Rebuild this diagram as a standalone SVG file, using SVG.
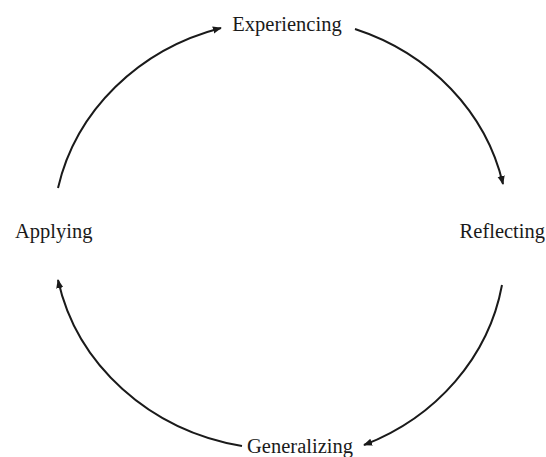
<svg xmlns="http://www.w3.org/2000/svg" width="546" height="457" viewBox="0 0 546 457">
<defs>
<marker id="ah" viewBox="0 0 10 10" refX="9" refY="5" markerWidth="9" markerHeight="9" markerUnits="userSpaceOnUse" orient="auto">
<path d="M0,1 L10,5 L0,9 z" fill="#1a1a1a"/>
</marker>
<style>
.lbl{font-family:"Liberation Serif","Times New Roman",serif;font-size:20.5px;fill:#1a1a1a}
.arc{fill:none;stroke:#1a1a1a;stroke-width:2;marker-end:url(#ah)}
</style>
</defs>
<rect width="546" height="457" fill="#ffffff"/>
<g id="connectors">
<path class="arc" d="M58,188 A230,212 0 0 1 221,28"/>
<path class="arc" d="M355,29 A230,212 0 0 1 503,184"/>
<path class="arc" d="M502,285 A230,212 0 0 1 364,445"/>
<path class="arc" d="M242,446 A230,212 0 0 1 58,280"/>
</g>
<g id="experiencing"><text class="lbl" x="287" y="31" text-anchor="middle">Experiencing</text></g>
<g id="reflecting"><text class="lbl" x="545" y="238" text-anchor="end">Reflecting</text></g>
<g id="generalizing"><text class="lbl" x="300" y="453" text-anchor="middle">Generalizing</text></g>
<g id="applying"><text class="lbl" x="15" y="238">Applying</text></g>
</svg>
